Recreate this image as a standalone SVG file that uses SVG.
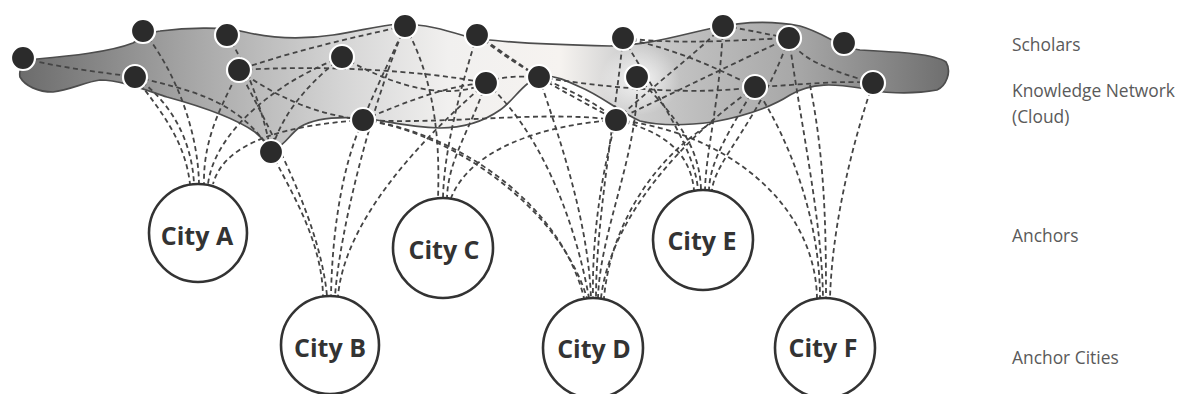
<svg xmlns="http://www.w3.org/2000/svg" width="1178" height="394" viewBox="0 0 1178 394">
<style>
.cloud{stroke:#4d4d4d;stroke-width:1.7}
.dl{fill:none;stroke:#444444;stroke-width:1.8;stroke-dasharray:5 3.5}
.sch{fill:#2b2b2b;stroke:#ffffff;stroke-width:2.2}
.city{fill:#ffffff;stroke:#333333;stroke-width:2.6}
.ct{font-family:"Open Sans","Liberation Sans",sans-serif;font-weight:bold;font-size:25px;fill:#333333;text-anchor:middle}
.lbl{font-family:"Open Sans","Liberation Sans",sans-serif;font-size:17.4px;fill:#5a5a5a}
</style>
<defs>
<linearGradient id="g" gradientUnits="userSpaceOnUse" x1="20" y1="0" x2="950" y2="0">
<stop offset="0" stop-color="#6c6c6c"/>
<stop offset="0.19" stop-color="#a8a8a8"/>
<stop offset="0.35" stop-color="#d6d6d6"/>
<stop offset="0.46" stop-color="#f1f0ef"/>
<stop offset="0.58" stop-color="#f6f3f0"/>
<stop offset="0.645" stop-color="#d2d2d2"/>
<stop offset="0.73" stop-color="#bdbdbd"/>
<stop offset="0.84" stop-color="#a6a6a6"/>
<stop offset="1" stop-color="#6e6e6e"/>
</linearGradient>
<radialGradient id="hl" cx="0.5" cy="0.5" r="0.5">
<stop offset="0" stop-color="#ffffff" stop-opacity="0.8"/>
<stop offset="1" stop-color="#ffffff" stop-opacity="0"/>
</radialGradient>
<clipPath id="cc"><path id="cloudPath" d="M20,77 C18,66 28,60 37,59 C70,56 110,52 133,43 C145,36 150,32 160,31 C190,27 225,27 245,32 C270,38 300,40 333,35 C360,31 380,25 400,24 C425,24 445,30 465,36 C490,42 560,45 610,46 C650,45 680,35 713,28 C740,22 770,20 800,26 C825,33 840,48 860,50 C900,52 935,54 946,62 C952,72 946,86 937,90 C910,95 880,93 860,88 C835,84 812,82 790,95 C770,108 745,116 713,122 C690,125 660,126 640,121 C620,112 600,95 580,87 C565,80 556,76 545,76 C525,78 515,100 500,110 C480,124 460,128 440,128 C410,127 390,122 370,119 C340,116 315,118 300,127 C290,134 284,146 276,148 C268,146 262,138 255,132 C235,118 200,106 167,97 C140,88 120,80 100,80 C85,82 70,90 53,92 C38,92 25,86 20,77 Z"/></clipPath>
</defs>
<rect width="1178" height="394" fill="#ffffff"/>
<g id="cloud">
<use href="#cloudPath" fill="url(#g)"/>
<ellipse cx="640" cy="80" rx="40" ry="35" fill="url(#hl)" clip-path="url(#cc)"/>
<use href="#cloudPath" fill="none" class="cloud"/>
</g>
<g id="connectors">
<path class="dl" d="M23,58 C60,68 100,72 135,77"/>
<path class="dl" d="M135,77 C190,90 240,100 271,152"/>
<path class="dl" d="M239,70 C320,65 420,70 486,83"/>
<path class="dl" d="M239,70 C280,100 320,115 363,120"/>
<path class="dl" d="M227,35 C250,70 265,120 271,152"/>
<path class="dl" d="M342,57 C300,90 280,120 271,152"/>
<path class="dl" d="M405,26 C390,60 375,90 363,120"/>
<path class="dl" d="M405,26 C340,40 280,55 239,70"/>
<path class="dl" d="M342,57 C400,90 450,100 486,83"/>
<path class="dl" d="M363,120 C410,100 450,85 486,83"/>
<path class="dl" d="M363,120 C450,125 540,110 616,120"/>
<path class="dl" d="M477,35 C500,50 520,65 539,77"/>
<path class="dl" d="M477,35 C520,70 580,100 616,120"/>
<path class="dl" d="M486,83 C500,76 520,76 539,77"/>
<path class="dl" d="M539,77 C620,90 700,95 755,87"/>
<path class="dl" d="M623,38 C680,50 720,70 755,87"/>
<path class="dl" d="M623,38 C680,45 740,40 789,38"/>
<path class="dl" d="M616,120 C680,90 740,60 789,38"/>
<path class="dl" d="M616,120 C660,80 700,50 723,26"/>
<path class="dl" d="M789,38 C800,60 830,70 873,83"/>
<path class="dl" d="M755,87 C800,85 840,80 873,83"/>
<path class="dl" d="M723,26 C750,30 770,35 789,38"/>
<path class="dl" d="M539,77 C570,90 600,105 616,120"/>
<path class="dl" d="M135,77 C160,110 185,140 190,184"/>
<path class="dl" d="M135,77 C170,100 192,140 194,184"/>
<path class="dl" d="M143,31 C175,70 198,130 199,184"/>
<path class="dl" d="M239,70 C225,100 203,135 204,184"/>
<path class="dl" d="M342,57 C280,80 215,130 208,184"/>
<path class="dl" d="M363,120 C290,125 225,140 213,184"/>
<path class="dl" d="M271,152 C290,190 322,240 323,296"/>
<path class="dl" d="M239,70 C270,130 320,220 327,296"/>
<path class="dl" d="M363,120 C340,170 332,240 331,296"/>
<path class="dl" d="M405,26 C370,110 340,230 335,296"/>
<path class="dl" d="M486,83 C420,140 345,220 338,296"/>
<path class="dl" d="M405,26 C435,80 440,140 438,198"/>
<path class="dl" d="M477,35 C460,90 444,150 443,198"/>
<path class="dl" d="M486,83 C470,130 448,160 447,198"/>
<path class="dl" d="M616,120 C540,125 470,150 451,198"/>
<path class="dl" d="M363,120 C450,130 560,200 584,298"/>
<path class="dl" d="M380,123 C460,140 560,210 587,298"/>
<path class="dl" d="M486,83 C540,130 575,220 589,298"/>
<path class="dl" d="M539,77 C560,140 588,220 591,298"/>
<path class="dl" d="M616,120 C600,180 592,240 593,298"/>
<path class="dl" d="M623,38 C615,120 596,220 596,298"/>
<path class="dl" d="M637,77 C640,150 600,230 598,298"/>
<path class="dl" d="M755,87 C680,140 610,220 601,298"/>
<path class="dl" d="M713,122 C650,160 610,230 604,298"/>
<path class="dl" d="M616,120 C660,130 690,150 694,190"/>
<path class="dl" d="M623,38 C660,100 695,150 698,190"/>
<path class="dl" d="M637,77 C680,120 700,150 701,190"/>
<path class="dl" d="M723,26 C720,100 706,150 705,190"/>
<path class="dl" d="M755,87 C730,130 710,160 709,190"/>
<path class="dl" d="M789,38 C760,120 715,160 712,190"/>
<path class="dl" d="M616,120 C720,130 815,200 817,298"/>
<path class="dl" d="M755,87 C790,140 820,220 820,298"/>
<path class="dl" d="M789,38 C800,120 822,220 823,298"/>
<path class="dl" d="M810,85 C825,160 826,230 826,298"/>
<path class="dl" d="M873,83 C850,150 832,230 830,298"/>
</g>
<g id="cityA"><circle class="city" cx="198" cy="233" r="49"/><text class="ct" x="197" y="245">City A</text></g>
<g id="cityB"><circle class="city" cx="330" cy="345" r="49"/><text class="ct" x="330" y="357">City B</text></g>
<g id="cityC"><circle class="city" cx="443" cy="248" r="50"/><text class="ct" x="444" y="259">City C</text></g>
<g id="cityD"><circle class="city" cx="593" cy="348" r="50"/><text class="ct" x="594" y="358">City D</text></g>
<g id="cityE"><circle class="city" cx="703" cy="240" r="50"/><text class="ct" x="702" y="250">City E</text></g>
<g id="cityF"><circle class="city" cx="825" cy="348" r="50"/><text class="ct" x="823" y="357">City F</text></g>
<g id="scholars">
<circle class="sch" cx="23" cy="58" r="12"/>
<circle class="sch" cx="143" cy="31" r="12"/>
<circle class="sch" cx="227" cy="35" r="12"/>
<circle class="sch" cx="342" cy="57" r="12"/>
<circle class="sch" cx="135" cy="77" r="12"/>
<circle class="sch" cx="239" cy="70" r="12"/>
<circle class="sch" cx="363" cy="120" r="12"/>
<circle class="sch" cx="271" cy="152" r="12"/>
<circle class="sch" cx="405" cy="26" r="12"/>
<circle class="sch" cx="477" cy="35" r="12"/>
<circle class="sch" cx="486" cy="83" r="12"/>
<circle class="sch" cx="539" cy="77" r="12"/>
<circle class="sch" cx="623" cy="38" r="12"/>
<circle class="sch" cx="637" cy="77" r="12"/>
<circle class="sch" cx="616" cy="120" r="12"/>
<circle class="sch" cx="723" cy="26" r="12"/>
<circle class="sch" cx="755" cy="87" r="12"/>
<circle class="sch" cx="789" cy="38" r="12"/>
<circle class="sch" cx="844" cy="43" r="12"/>
<circle class="sch" cx="873" cy="83" r="12"/>
</g>
<g id="labels">
<text class="lbl" x="1012" y="51">Scholars</text>
<text class="lbl" x="1012" y="97">Knowledge Network</text>
<text class="lbl" x="1012" y="123">(Cloud)</text>
<text class="lbl" x="1012" y="242">Anchors</text>
<text class="lbl" x="1012" y="364">Anchor Cities</text>
</g>
</svg>
